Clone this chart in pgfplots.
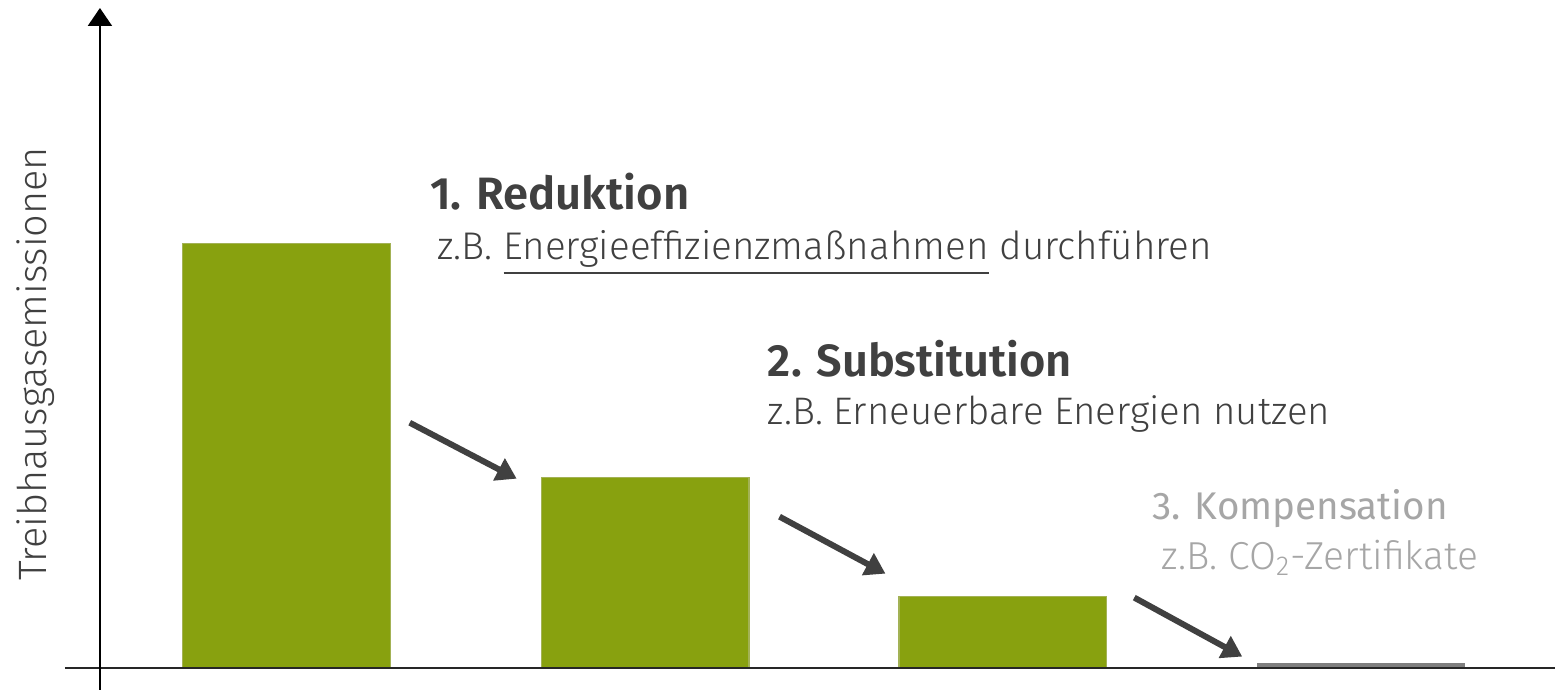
\documentclass[border=0pt]{standalone}
\usepackage{fontspec}
\setmainfont{Fira Sans}[UprightFont={* Light}, BoldFont={* SemiBold}]
\newfontfamily\regfont{Fira Sans}
\usepackage{pgfplots}
\pgfplotsset{compat=1.18}
\usetikzlibrary{arrows.meta}
\definecolor{bargreen}{HTML}{88A10F}
\definecolor{baredge}{HTML}{A3B255}
\definecolor{bargray}{HTML}{7F7F7F}
\definecolor{txtdark}{HTML}{404040}
\definecolor{txtgray}{HTML}{A6A6A6}
\definecolor{arrowc}{HTML}{404040}
\begin{document}
\begin{tikzpicture}
\begin{axis}[
  width=778pt, height=347pt, scale only axis,
  xmin=0, xmax=1556, ymin=-26, ymax=668,
  hide axis, clip=false,
  ybar, bar width=104pt, bar shift=0pt,
]
\path (axis cs:0,-26) rectangle (axis cs:1556,668);
\addplot[fill=bargreen, draw=baredge, line width=0.6pt] coordinates {(287,424) (645.5,190) (1003.5,71)};
\addplot[fill=bargray, draw=none] coordinates {(1361.5,5)};
% axes
\draw[line width=1pt, black!85] (axis cs:65,0) -- (axis cs:1556,0);
\draw[line width=1pt, black, -{Triangle[length=9pt,width=12pt]}] (axis cs:100,-22) -- (axis cs:100,660);
% arrows
\draw[line width=3pt, arrowc, -{Triangle[length=10pt,width=12pt]}] (axis cs:410,245) -- (axis cs:517,189);
\draw[line width=3pt, arrowc, -{Triangle[length=10pt,width=12pt]}] (axis cs:780,151) -- (axis cs:886,94);
\draw[line width=3pt, arrowc, -{Triangle[length=10pt,width=12pt]}] (axis cs:1135,70) -- (axis cs:1243,11);
% texts
\node[anchor=base west, inner sep=0pt, text=txtdark, font=\fontsize{22.7}{26}\selectfont\bfseries] at (axis cs:430,458) {1. Reduktion};
\node[anchor=base west, inner sep=0pt, text=txtdark, font=\fontsize{19.3}{22}\selectfont] at (axis cs:437,408) {z.B. Energieeffizienzmaßnahmen durchführen};
\draw[line width=1.2pt, txtdark] (axis cs:504,395) -- (axis cs:990,395);
\node[anchor=base west, inner sep=0pt, text=txtdark, font=\fontsize{22.6}{26}\selectfont\bfseries] at (axis cs:768,291) {2. Substitution};
\node[anchor=base west, inner sep=0pt, text=txtdark, font=\fontsize{19.2}{22}\selectfont] at (axis cs:768,243) {z.B. Erneuerbare Energien nutzen};
\node[anchor=base west, inner sep=0pt, text=txtgray, font=\fontsize{19.3}{22}\selectfont\regfont] at (axis cs:1153,148) {3. Kompensation};
\node[anchor=base west, inner sep=0pt, text=txtgray, font=\fontsize{19.5}{22}\selectfont] at (axis cs:1162,98) {z.B. CO\textsubscript{2}-Zertifikate};
\node[rotate=90, anchor=base, inner sep=0pt, text=txtdark, font=\fontsize{19.8}{24}\selectfont] at (axis cs:47,304) {Treibhausgasemissionen};
\end{axis}
\end{tikzpicture}
\end{document}
